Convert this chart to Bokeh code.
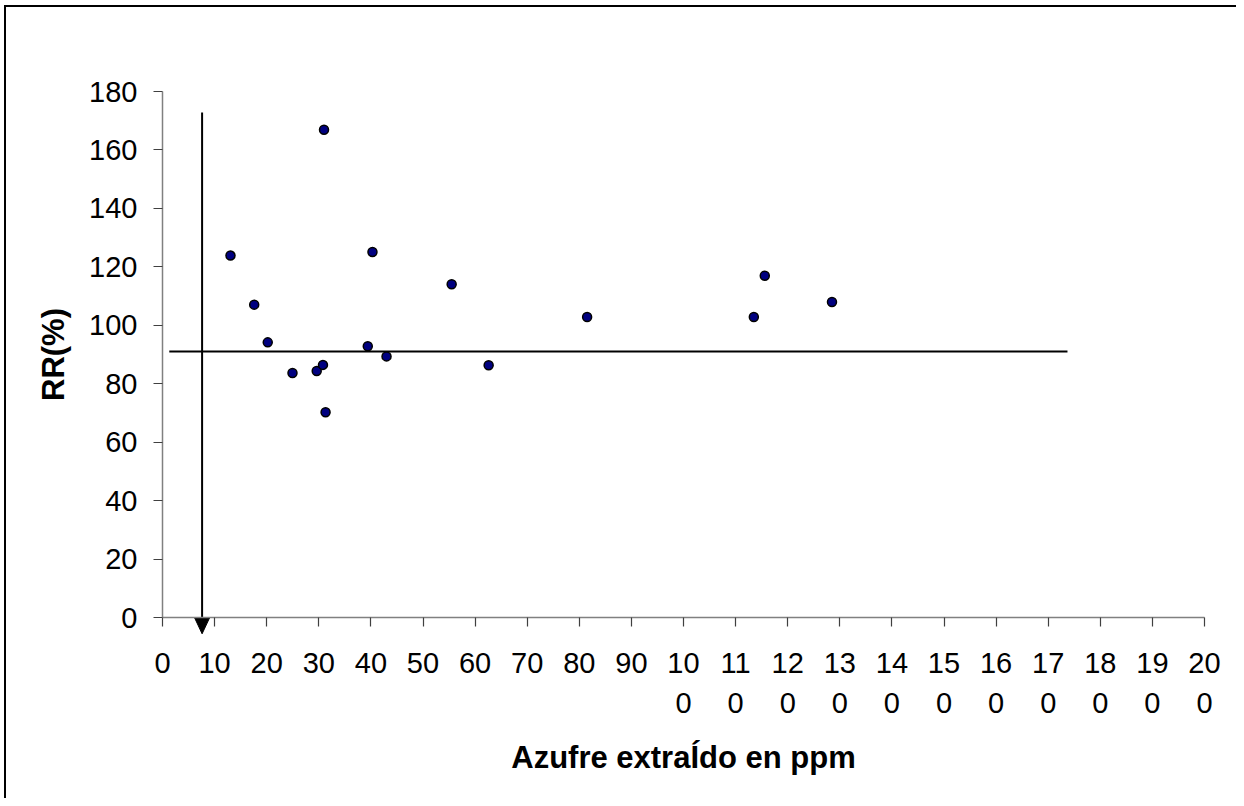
from bokeh.plotting import figure
from bokeh.models import Range1d, FixedTicker
from bokeh.embed import file_html
from bokeh.resources import INLINE

# data
azufre_ppm = [13.05, 17.6, 20.2, 24.95, 29.6, 30.8, 31.3, 31.0, 39.4, 40.3,
              43.0, 55.5, 62.6, 81.5, 113.5, 115.6, 128.5]
rr_pct = [123.9, 107.1, 94.2, 83.7, 84.4, 86.5, 70.3, 166.9, 92.9, 125.1,
          89.4, 114.1, 86.4, 102.9, 102.9, 117.0, 108.0]

x_ticks = list(range(0, 201, 10))
y_ticks = list(range(0, 181, 20))
x_tick_labels = {t: (str(t) if t < 100 else str(t)[:2] + "\n" + str(t)[2:]) for t in x_ticks}

# reference lines (critical level)
hline_x = [1.3, 173.7]
hline_y = [91.1, 91.1]
vline_x = 7.6
vline_y_top = 172.8
vline_y_bottom = 0.0

FONT = "Liberation Sans"
W, H = 1236, 798
ML, MR, MT, MB = 20, 8, 20, 10
# pixel positions (within the figure) of the axis extents
X0_PX, X200_PX = 162, 1204
Y180_PX, Y0_PX = 91, 617.3
ux = (X200_PX - X0_PX) / 200      # px per x unit
uy = (Y0_PX - Y180_PX) / 180      # px per y unit
X_LOW = -(X0_PX - ML) / ux
X_HIGH = 200 + ((W - MR) - X200_PX) / ux
Y_HIGH = 180 + (Y180_PX - MT) / uy
Y_LOW = -((H - MB) - Y0_PX) / uy

p = figure(width=W, height=H, output_backend="svg", toolbar_location=None,
           x_range=Range1d(X_LOW, X_HIGH), y_range=Range1d(Y_LOW, Y_HIGH),
           min_border_left=ML, min_border_right=MR, min_border_top=MT,
           min_border_bottom=MB)
p.border_fill_alpha = 0
p.background_fill_alpha = 0
p.styles = {
    "background-color": "white",
    "background-image": "linear-gradient(#000,#000), linear-gradient(#000,#000)",
    "background-position": "4px 5px, 4px 5px",
    "background-size": "2px 100%, 100% 2px",
    "background-repeat": "no-repeat",
}

p.xgrid.visible = False
p.ygrid.visible = False
p.outline_line_color = None

for ax in (p.xaxis[0], p.yaxis[0]):
    ax.fixed_location = 0
    ax.axis_line_color = "#808080"
    ax.axis_line_width = 1.5
    ax.major_tick_line_color = "#404040"
    ax.major_tick_line_width = 1.2
    ax.major_tick_in = 0
    ax.major_tick_out = 9
    ax.minor_tick_line_color = None
    ax.major_label_text_font = FONT
    ax.major_label_text_font_size = "29px"
    ax.major_label_text_color = "black"
    ax.axis_label_text_font = FONT
    ax.axis_label_text_font_size = "31px"
    ax.axis_label_text_font_style = "bold"
    ax.axis_label_text_color = "black"

p.xaxis.ticker = FixedTicker(ticks=x_ticks)
p.xaxis.bounds = (0, 200)
p.xaxis.major_label_overrides = x_tick_labels
p.xaxis.major_label_text_line_height = 1.25
p.xaxis.major_label_standoff = 20
p.xaxis.axis_label = "Azufre extraÍdo en ppm"
p.xaxis.axis_label_standoff = 18

p.yaxis.ticker = FixedTicker(ticks=y_ticks)
p.yaxis.bounds = (0, 180)
p.yaxis.major_label_standoff = 16
p.yaxis.axis_label = "RR(%)"
p.yaxis.axis_label_standoff = 15

p.line(hline_x, hline_y, line_color="black", line_width=2)
p.line([vline_x, vline_x], [vline_y_top, vline_y_bottom], line_color="black", line_width=2)
head_half_w = 7.5 / ux
head_h = 16 / uy
p.patch([vline_x - head_half_w, vline_x + head_half_w, vline_x],
        [vline_y_bottom, vline_y_bottom, vline_y_bottom - head_h],
        fill_color="black", line_color="black", line_width=1)

p.scatter(azufre_ppm, rr_pct, marker="circle", size=9, fill_color="#000080",
          line_color="black", line_width=1.5)

open("out.html", "w").write(file_html(p, INLINE))
